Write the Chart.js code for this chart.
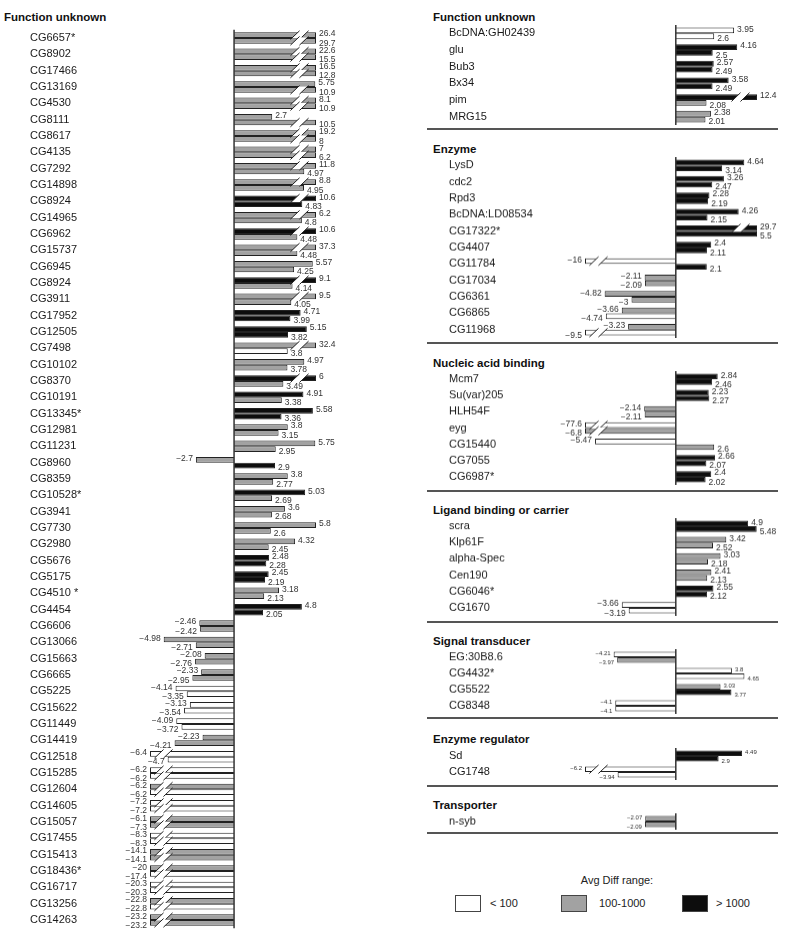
<!DOCTYPE html>
<html>
<head>
<meta charset="utf-8">
<script src="https://cdn.jsdelivr.net/npm/chart.js@4.4.0/dist/chart.umd.min.js"></script>
<style>
  body { margin: 0; background: #fff; }
  #page { position: relative; width: 800px; height: 939px; font-family: "Liberation Sans", Arial, sans-serif; color: #1a1a1a; }
  canvas { position: absolute; }
  .title { position: absolute; font-weight: bold; font-size: 11.5px; line-height: 14px; white-space: nowrap; color: #111; }
  .sep { position: absolute; left: 427px; width: 351px; height: 0; border-top: 2px solid #555; }
  .legtitle { position: absolute; left: 517px; width: 200px; text-align: center; top: 874px; font-size: 11px; color: #222; }
  .box { position: absolute; top: 895px; width: 24px; height: 15px; border: 1px solid #444; }
  .leglabel { position: absolute; top: 896px; font-size: 11px; line-height: 14px; color: #222; }
</style>
</head>
<body>
<div id="page"></div>
<script>
// left panel: Function unknown
const leftGenes = ['CG6657*', 'CG8902', 'CG17466', 'CG13169', 'CG4530', 'CG8111', 'CG8617', 'CG4135', 'CG7292', 'CG14898',
  'CG8924', 'CG14965', 'CG6962', 'CG15737', 'CG6945', 'CG8924', 'CG3911', 'CG17952', 'CG12505', 'CG7498',
  'CG10102', 'CG8370', 'CG10191', 'CG13345*', 'CG12981', 'CG11231', 'CG8960', 'CG8359', 'CG10528*', 'CG3941',
  'CG7730', 'CG2980', 'CG5676', 'CG5175', 'CG4510 *', 'CG4454', 'CG6606', 'CG13066', 'CG15663', 'CG6665',
  'CG5225', 'CG15622', 'CG11449', 'CG14419', 'CG12518', 'CG15285', 'CG12604', 'CG14605', 'CG15057', 'CG17455',
  'CG15413', 'CG18436*', 'CG16717', 'CG13256', 'CG14263'];
const leftFirst = [26.4, 22.6, 16.5, 5.75, 8.1, 2.7, 19.2, 7, 11.8, 8.8,
  10.6, 6.2, 10.6, 37.3, 5.57, 9.1, 9.5, 4.71, 5.15, 32.4,
  4.97, 6, 4.91, 5.58, 3.8, 5.75, -2.7, 3.8, 5.03, 3.6,
  5.8, 4.32, 2.48, 2.45, 3.18, 4.8, -2.46, -4.98, -2.08, -2.33,
  -4.14, -3.13, -4.09, -2.23, -6.4, -6.2, -6.2, -7.2, -6.1, -8.3,
  -14.1, -20, -20.3, -22.8, -23.2];
const leftSecond = [29.7, 15.5, 12.8, 10.9, 10.9, 10.5, 8, 6.2, 4.97, 4.95,
  4.83, 4.8, 4.48, 4.48, 4.25, 4.14, 4.05, 3.99, 3.82, 3.8,
  3.78, 3.49, 3.38, 3.36, 3.15, 2.95, 2.9, 2.77, 2.69, 2.68,
  2.6, 2.45, 2.28, 2.19, 2.13, 2.05, -2.42, -2.71, -2.76, -2.95,
  -3.35, -3.54, -3.72, -4.21, -4.7, -6.2, -6.2, -7.2, -7.3, -8.3,
  -14.1, -17.4, -20.3, -22.8, -23.2];
// Avg Diff range: 0 = < 100, 1 = 100-1000, 2 = > 1000
const leftFirstRange = [1, 1, 1, 1, 1, 1, 1, 1, 1, 1,
  2, 1, 2, 1, 1, 2, 1, 2, 2, 1,
  1, 2, 2, 2, 1, 1, 1, 1, 2, 1,
  1, 1, 2, 2, 1, 2, 1, 1, 1, 1,
  0, 0, 0, 1, 0, 0, 1, 0, 1, 0,
  1, 1, 0, 1, 1];
const leftSecondRange = [1, 1, 1, 1, 1, 1, 1, 1, 1, 1,
  2, 1, 1, 1, 1, 1, 1, 2, 2, 0,
  1, 1, 1, 2, 1, 1, 2, 1, 1, 1,
  1, 1, 2, 2, 1, 2, 1, 1, 1, 1,
  0, 0, 0, 1, 0, 0, 0, 0, 1, 0,
  1, 0, 0, 0, 1];

// right panel sections
const sectionNames = ['Function unknown', 'Enzyme', 'Nucleic acid binding', 'Ligand binding or carrier',
  'Signal transducer', 'Enzyme regulator', 'Transporter'];

const unknownGenes = ['BcDNA:GH02439', 'glu', 'Bub3', 'Bx34', 'pim', 'MRG15'];
const unknownFirst = [3.95, 4.16, 2.57, 3.58, 12.4, 2.38];
const unknownSecond = [2.6, 2.5, 2.49, 2.49, 2.08, 2.01];
const unknownFirstRange = [0, 2, 2, 2, 2, 1];
const unknownSecondRange = [0, 2, 2, 2, 1, 1];

const enzymeGenes = ['LysD', 'cdc2', 'Rpd3', 'BcDNA:LD08534', 'CG17322*', 'CG4407', 'CG11784', 'CG17034', 'CG6361', 'CG6865', 'CG11968'];
const enzymeFirst = [4.64, 3.26, 2.28, 4.26, 29.7, 2.4, -16, -2.11, -4.82, -3.66, -3.23];
const enzymeSecond = [3.14, 2.47, 2.19, 2.15, 5.5, 2.11, 2.1, -2.09, -3, -4.74, -9.5];
const enzymeFirstRange = [2, 2, 2, 2, 2, 2, 0, 1, 1, 1, 1];
const enzymeSecondRange = [2, 2, 2, 2, 2, 2, 2, 1, 1, 0, 0];

const nucleicGenes = ['Mcm7', 'Su(var)205', 'HLH54F', 'eyg', 'CG15440', 'CG7055', 'CG6987*'];
const nucleicFirst = [2.84, 2.23, -2.14, -77.6, -5.47, 2.66, 2.4];
const nucleicSecond = [2.46, 2.27, -2.11, -6.8, 2.6, 2.07, 2.02];
const nucleicFirstRange = [2, 2, 1, 0, 0, 2, 2];
const nucleicSecondRange = [2, 2, 1, 1, 1, 2, 2];

const ligandGenes = ['scra', 'Klp61F', 'alpha-Spec', 'Cen190', 'CG6046*', 'CG1670'];
const ligandFirst = [4.9, 3.42, 3.03, 2.41, 2.55, -3.66];
const ligandSecond = [5.48, 2.52, 2.18, 2.13, 2.12, -3.19];
const ligandFirstRange = [2, 1, 1, 1, 2, 0];
const ligandSecondRange = [2, 1, 1, 1, 2, 0];

const signalGenes = ['EG:30B8.6', 'CG4432*', 'CG5522', 'CG8348'];
const signalFirst = [-4.21, 3.8, 3.03, -4.1];
const signalSecond = [-3.97, 4.65, 3.77, -4.1];
const signalFirstRange = [0, 0, 1, 0];
const signalSecondRange = [1, 0, 2, 0];

const regulatorGenes = ['Sd', 'CG1748'];
const regulatorFirst = [4.49, -6.2];
const regulatorSecond = [2.9, -3.94];
const regulatorFirstRange = [2, 0];
const regulatorSecondRange = [2, 0];

const transporterGenes = ['n-syb'];
const transporterFirst = [-2.07];
const transporterSecond = [-2.09];
const transporterFirstRange = [1];
const transporterSecondRange = [1];

const legendLabels = ['< 100', '100-1000', '> 1000'];

// ---- drawing ----
const FONT = '"Liberation Sans", Arial, sans-serif';
const RANGE_FILL = ['#ffffff', '#a2a2a2', '#0d0d0d'];
const page = document.getElementById('page');

function fmt(v) {
  return v < 0 ? '\u2212' + String(-v) : String(v);
}

// white slanted gap cut into a bar that runs off the scale
function drawBreak(ctx, el, dir) {
  const h = el.height, top = el.y - h / 2, bot = el.y + h / 2, s = 6;
  let p1, p2;
  if (dir > 0) { p1 = el.x - 24; p2 = el.x - 15; }
  else { p1 = el.x + 6; p2 = el.x + 15; }
  const k = s / h;
  ctx.fillStyle = '#fff';
  ctx.beginPath();
  ctx.moveTo(p1 - k * 0.6, bot + 0.6);
  ctx.lineTo(p1 + s + k * 0.6, top - 0.6);
  ctx.lineTo(p2 + s + k * 0.6, top - 0.6);
  ctx.lineTo(p2 - k * 0.6, bot + 0.6);
  ctx.closePath();
  ctx.fill();
  ctx.strokeStyle = '#222';
  ctx.lineWidth = 1;
  [p1, p2].forEach(p => {
    ctx.beginPath();
    ctx.moveTo(p - k * 1.5, bot + 1.5);
    ctx.lineTo(p + s + k * 1.5, top - 1.5);
    ctx.stroke();
  });
}

const barDecor = {
  id: 'barDecor',
  afterDatasetsDraw(chart, args, opts) {
    const ctx = chart.ctx;
    const xs = chart.scales.x;
    const area = chart.chartArea;
    const zero = xs.getPixelForValue(0);
    ctx.save();
    ctx.strokeStyle = '#333';
    ctx.lineWidth = 1.5;
    ctx.beginPath();
    ctx.moveTo(zero, area.top);
    ctx.lineTo(zero, area.bottom);
    ctx.stroke();
    chart.data.datasets.forEach((ds, d) => {
      const meta = chart.getDatasetMeta(d);
      meta.data.forEach((el, i) => {
        const v = ds.values[i];
        const dir = v < 0 ? -1 : 1;
        if (v > xs.max || v < xs.min) drawBreak(ctx, el, dir);
        ctx.font = opts.size + 'px ' + FONT;
        ctx.fillStyle = '#333';
        ctx.textBaseline = 'middle';
        ctx.textAlign = dir > 0 ? 'left' : 'right';
        ctx.fillText(fmt(v), el.x + dir * 3, el.y + (d === 0 ? -1 : 2.5));
      });
    });
    ctx.restore();
  }
};

function makeChart(box, genes, first, second, firstRange, secondRange, scale, valueSize) {
  const canvas = document.createElement('canvas');
  canvas.width = box.w;
  canvas.height = box.h;
  canvas.style.left = box.x + 'px';
  canvas.style.top = box.y + 'px';
  canvas.style.width = box.w + 'px';
  canvas.style.height = box.h + 'px';
  page.appendChild(canvas);
  const clamp = v => Math.max(scale.min, Math.min(scale.max, v));
  const dataset = (vals, ranges) => ({
    data: vals.map(clamp),
    values: vals,
    backgroundColor: ranges.map(r => RANGE_FILL[r]),
    borderColor: '#222',
    borderWidth: 1,
    categoryPercentage: 0.7,
    barPercentage: 1
  });
  return new Chart(canvas, {
    type: 'bar',
    data: {
      labels: genes,
      datasets: [dataset(first, firstRange), dataset(second, secondRange)]
    },
    options: {
      indexAxis: 'y',
      responsive: false,
      animation: false,
      devicePixelRatio: 1,
      layout: { padding: box.pad },
      plugins: {
        legend: { display: false },
        tooltip: { enabled: false },
        barDecor: { size: valueSize }
      },
      scales: {
        x: { display: false, min: scale.min, max: scale.max },
        y: {
          grid: { display: false },
          border: { display: false },
          ticks: {
            autoSkip: false,
            crossAlign: 'far',
            padding: 0,
            color: '#1a1a1a',
            font: { family: FONT, size: 11 }
          },
          afterFit: s => { s.width = box.labelWidth; }
        }
      }
    },
    plugins: [barDecor]
  });
}

function addDiv(cls, text, style) {
  const d = document.createElement('div');
  d.className = cls;
  if (text) d.textContent = text;
  Object.assign(d.style, style);
  page.appendChild(d);
  return d;
}

// left panel
addDiv('title', 'Function unknown', { left: '4px', top: '10px' });
makeChart(
  { x: 0, y: 0, w: 400, h: 939, labelWidth: 120, pad: { left: 30, right: 84, top: 29.8, bottom: 10.8 } },
  leftGenes, leftFirst, leftSecond, leftFirstRange, leftSecondRange,
  { min: -5.95, max: 5.8 }, 8.5
);

// right panel
const rightSections = [
  [unknownGenes, unknownFirst, unknownSecond, unknownFirstRange, unknownSecondRange],
  [enzymeGenes, enzymeFirst, enzymeSecond, enzymeFirstRange, enzymeSecondRange],
  [nucleicGenes, nucleicFirst, nucleicSecond, nucleicFirstRange, nucleicSecondRange],
  [ligandGenes, ligandFirst, ligandSecond, ligandFirstRange, ligandSecondRange],
  [signalGenes, signalFirst, signalSecond, signalFirstRange, signalSecondRange],
  [regulatorGenes, regulatorFirst, regulatorSecond, regulatorFirstRange, regulatorSecondRange],
  [transporterGenes, transporterFirst, transporterSecond, transporterFirstRange, transporterSecondRange]
];
const titleY = [17, 149, 362.7, 510, 641, 739.3, 805];
const sepY = [129.3, 342.7, 491, 622.3, 718.3, 786, 833.3];
const rowH = [16.67, 16.4, 16.25, 16.2, 16.1, 16.3, 16.4];
const valueSizes = [8.5, 8.5, 8.5, 8.5, 6, 6, 6];

rightSections.forEach((sec, k) => {
  const [genes, first, second, fr, sr] = sec;
  addDiv('title', sectionNames[k], { left: '433px', top: (titleY[k] - 7) + 'px' });
  addDiv('sep', '', { top: (sepY[k] - 1) + 'px' });
  const areaTop = titleY[k] + 16.5 - rowH[k] / 2;
  const h = genes.length * rowH[k] + 16;
  makeChart(
    { x: 400, y: areaTop - 8, w: 400, h: h, labelWidth: 136, pad: { left: 49, right: 43, top: 8, bottom: 8 } },
    genes, first, second, fr, sr,
    { min: -6.15, max: 5.5 }, valueSizes[k]
  );
});

// legend
addDiv('legtitle', 'Avg Diff range:', {});
const boxX = [455, 561, 682];
const labX = [490, 599, 716];
legendLabels.forEach((t, i) => {
  addDiv('box', '', { left: boxX[i] + 'px', background: RANGE_FILL[i] });
  addDiv('leglabel', t, { left: labX[i] + 'px' });
});
</script>
</body>
</html>
